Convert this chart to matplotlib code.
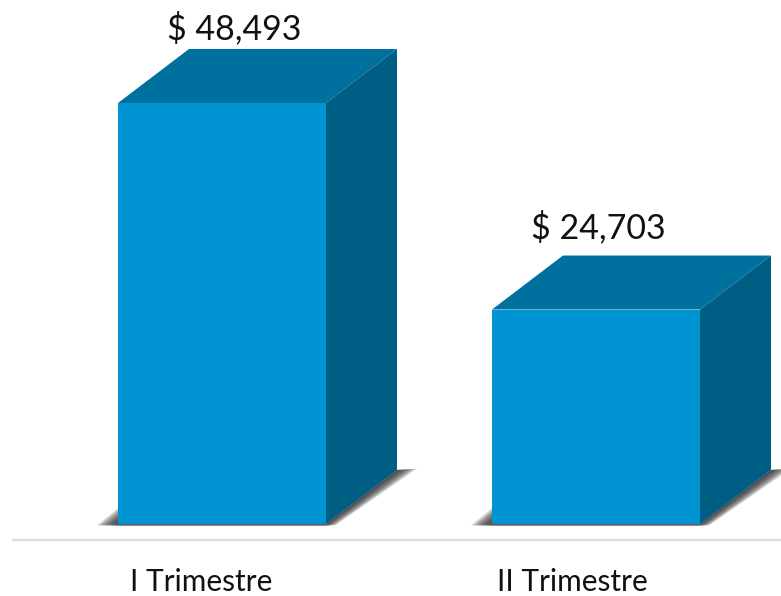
import matplotlib
matplotlib.use("Agg")
import matplotlib.pyplot as plt
from matplotlib.patches import Polygon

categories = ["I Trimestre", "II Trimestre"]
values = [48493, 24703]
value_labels = ["$ 48,493", "$ 24,703"]

W, H = 781, 596
PX_PER_X = 374.0          # pixels between bars
PX_PER_Y = 421.0 / 48493  # pixels per dollar
BAR_W = 208 / PX_PER_X
DX = 71 / PX_PER_X        # 3d depth
DY = 54 / PX_PER_Y

FRONT = "#0094d3"
TOP = "#00709f"
SIDE = "#005e85"
SHADE = "#2e2e2e"

# label nudges in pixels
value_dx = [12.5, 2.5]
value_dy = [3.5, 11.5]
cat_dx = [-21, -23.5]


fig = plt.figure(figsize=(W / 100, H / 100), dpi=100)
ax = fig.add_axes([0, 0, 1, 1])
ax.set_xlim(-222 / PX_PER_X, (W - 222) / PX_PER_X)
ax.set_ylim(-(H - 524) / PX_PER_Y, 524 / PX_PER_Y)
ax.axis("off")

for i, (v, cat, lab) in enumerate(zip(values, categories, value_labels)):
	l = i - BAR_W / 2
	r = i + BAR_W / 2

	# soft floor shadows: stacked translucent wedges, each one a bit wider
	for k in range(1, 11):
		sx = k * 2.0 / PX_PER_X
		sy = k * 0.45 / PX_PER_Y
		ax.add_patch(Polygon([(r, 0), (r + DX, DY), (r + DX + sx, DY + sy * 0.3), (r + sx * 0.5, -sy * 0.2), (r, -sy * 0.5)],
			facecolor=SHADE, edgecolor="none", alpha=0.17, zorder=1))
		lx = k * 2.1 / PX_PER_X
		ax.add_patch(Polygon([(l - lx, -sy * 0.3), (l, k * 1.6 / PX_PER_Y), (l + 5 / PX_PER_X, 0), (r, 0), (r, -sy * 0.5), (l, -sy * 0.5)],
			facecolor=SHADE, edgecolor="none", alpha=0.17, zorder=1))

	ax.bar(i, v, width=BAR_W, color=FRONT, zorder=3)
	ax.add_patch(Polygon([(l, v), (l + DX, v + DY), (r + DX, v + DY), (r, v)], facecolor=TOP, edgecolor="none", zorder=3))
	ax.add_patch(Polygon([(r, 0), (r + DX, DY), (r + DX, v + DY), (r, v)], facecolor=SIDE, edgecolor="none", zorder=3))

	ax.text(i + value_dx[i] / PX_PER_X, v + DY + value_dy[i] / PX_PER_Y, lab, ha="center", va="bottom",
		fontsize=24.5, family="Lato", color="#111111")
	ax.text(i + cat_dx[i] / PX_PER_X, -(582 - 524) / PX_PER_Y, cat, ha="center", va="center",
		fontsize=21.5, family="Lato", color="#111111")

# floor line
ax.plot([(13 - 222) / PX_PER_X, (W - 222) / PX_PER_X], [-16 / PX_PER_Y, -16 / PX_PER_Y], color="#dedede", lw=1.6, zorder=1)

plt.savefig("out.png", dpi=100)
plt.close()
